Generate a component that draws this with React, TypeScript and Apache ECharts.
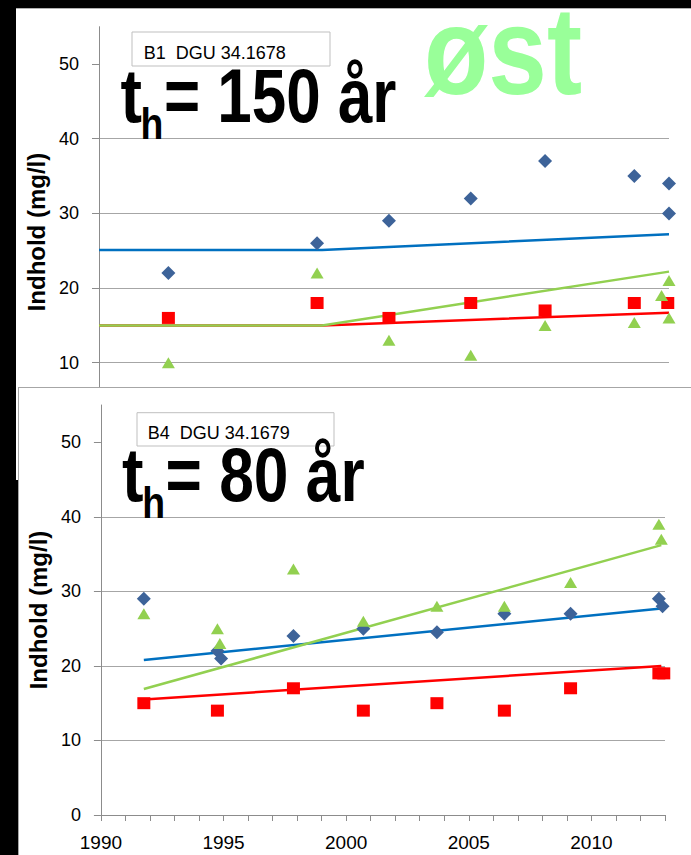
import React, { useEffect, useRef } from "react";
import * as echarts from "echarts";

// ---------- data ----------
const xLabelYears = [1990, 1995, 2000, 2005, 2010];
const yTickValues = [0, 10, 20, 30, 40, 50];
const yLabelsTop = [10, 20, 30, 40, 50];
const yLabelsBottom = [0, 10, 20, 30, 40, 50];

// top panel (B1)
const topBlueYears = [1992.8, 1998.8, 2001.7, 2005.0, 2008.0, 2011.6, 2013.0, 2013.0];
const topBlueValues = [22, 26, 29, 32, 37, 35, 34, 30];
const topRedYears = [1992.8, 1998.8, 2001.7, 2005.0, 2008.0, 2011.6, 2012.95];
const topRedValues = [16, 18, 16, 18, 17, 18, 18];
const topGreenYears = [1992.8, 1998.8, 2001.7, 2005.0, 2008.0, 2011.6, 2012.7, 2013.0, 2013.0];
const topGreenValues = [10, 22, 13, 11, 15, 15.4, 19, 21, 16];
const topTrendYears = [1990, 1999, 2013];
const topTrendBlue = [25.1, 25.1, 27.2];
const topTrendGreen = [15.0, 15.0, 22.2];
const topTrendRed = [15.0, 15.0, 16.7];

// bottom panel (B4)
const botBlueYears = [1991.75, 1994.75, 1994.9, 1997.85, 2000.7, 2003.7, 2006.45, 2009.15, 2012.75, 2012.9];
const botBlueValues = [29, 22, 21, 24, 25, 24.5, 27, 27, 29, 28];
const botRedYears = [1991.75, 1994.75, 1997.85, 2000.7, 2003.7, 2006.45, 2009.15, 2012.75, 2012.95];
const botRedValues = [15, 14, 17, 14, 15, 14, 17, 19, 19];
const botGreenYears = [1991.75, 1994.75, 1994.85, 1997.85, 2000.7, 2003.7, 2006.45, 2009.15, 2012.75, 2012.85];
const botGreenValues = [27, 25, 23, 33, 26, 28, 28, 31.2, 39, 37];
const botTrendYears = [1991.75, 2012.85];
const botTrendBlue = [20.8, 27.7];
const botTrendGreen = [16.9, 36.2];
const botTrendRed = [15.5, 20.0];

// ---------- styles ----------
const FONT = "'Liberation Sans', Arial, sans-serif";
const DIAMOND = "#3D6399";
const RED = "#FF0000";
const GREEN = "#92D050";
const LINE_BLUE = "#0070C0";
const AXIS = "#8c8c8c";
const GRID = "#a6a6a6";

const zip = (xs: number[], ys: number[]) => xs.map((x, i) => [x, ys[i]]);

function scatter(xs: number[], ys: number[], symbol: string, size: any, color: string) {
  return {
    type: "scatter",
    data: zip(xs, ys),
    symbol,
    symbolSize: size,
    itemStyle: { color, opacity: 1 },
    z: 3,
  };
}

function trend(xs: number[], ys: number[], color: string) {
  return {
    type: "line",
    data: zip(xs, ys),
    symbol: "none",
    showSymbol: false,
    lineStyle: { color, width: 2.5 },
    z: 2,
  };
}

function yAxisCfg(labels: number[], nameGap: number) {
  return {
    type: "value",
    min: 0,
    max: 55,
    interval: 10,
    name: "Indhold (mg/l)",
    nameLocation: "middle",
    nameRotate: 90,
    nameGap,
    nameTextStyle: { fontFamily: FONT, fontWeight: "bold", fontSize: 24, color: "#000" },
    axisLine: { show: true, lineStyle: { color: AXIS, width: 1 } },
    axisTick: { show: true, length: 7, inside: false, lineStyle: { color: AXIS }, customValues: yTickValues },
    axisLabel: {
      fontFamily: FONT,
      fontSize: 18,
      color: "#000",
      margin: 20,
      formatter: (v: number) => (labels.includes(v) ? String(v) : ""),
    },
    splitLine: { show: true, showMinLine: false, showMaxLine: false, lineStyle: { color: GRID, width: 1 } },
  };
}

function bigText(x: number, y: number, text: string, size: number, fill = "#000", scaleX = 0.85) {
  return {
    type: "text",
    x,
    y,
    scaleX,
    z: 100,
    style: {
      text,
      fontFamily: FONT,
      fontWeight: "bold",
      fontSize: size,
      fill,
      align: "left",
      verticalAlign: "middle",
    },
  };
}

function labelBox(x: number, y: number, w: number, h: number, tx: number, ty: number, text: string) {
  return [
    {
      type: "rect",
      z: 99,
      shape: { x, y, width: w, height: h },
      style: { fill: "#fff", stroke: "#bfbfbf", lineWidth: 1 },
    },
    {
      type: "text",
      z: 100,
      x: tx,
      y: ty,
      style: { text, fontFamily: FONT, fontSize: 18, fill: "#000", align: "left", verticalAlign: "middle" },
    },
  ];
}

const optionTop: any = {
  animation: false,
  backgroundColor: "transparent",
  grid: { left: 99, right: 22, top: 26.7, height: 410.7 },
  xAxis: {
    type: "value",
    min: 1990,
    max: 2013,
    interval: 1,
    axisLine: { show: false },
    axisTick: { show: false },
    axisLabel: { show: false },
    splitLine: { show: false },
  },
  yAxis: yAxisCfg(yLabelsTop, 47),
  series: [
    trend(topTrendYears, topTrendBlue, LINE_BLUE),
    trend(topTrendYears, topTrendRed, RED),
    trend(topTrendYears, topTrendGreen, GREEN),
    scatter(topBlueYears, topBlueValues, "diamond", 14, DIAMOND),
    scatter(topRedYears, topRedValues, "rect", [13, 12], RED),
    scatter(topGreenYears, topGreenValues, "triangle", [13, 11], GREEN),
  ],
  graphic: [
    ...labelBox(132, 32, 198, 34, 143.7, 52.7, "B1  DGU 34.1678"),
    bigText(120.4, 96, "t", 76),
    bigText(140.6, 124, "h", 44),
    bigText(164, 96, "= 150 år", 76, "#000", 0.815),
    bigText(424, 51, "øst", 124, "#99FF99"),
  ],
};

const optionBottom: any = {
  animation: false,
  backgroundColor: "transparent",
  grid: { left: 82.7, right: 26, top: 18, height: 410 },
  xAxis: {
    type: "value",
    min: 1990,
    max: 2013,
    interval: 1,
    axisLine: { show: true, lineStyle: { color: AXIS, width: 1 } },
    axisTick: { show: true, length: 6, lineStyle: { color: AXIS } },
    axisLabel: {
      fontFamily: FONT,
      fontSize: 19,
      color: "#000",
      margin: 18,
      formatter: (v: number) => (xLabelYears.includes(v) ? String(v) : ""),
    },
    splitLine: { show: false },
  },
  yAxis: yAxisCfg(yLabelsBottom, 50),
  series: [
    trend(botTrendYears, botTrendBlue, LINE_BLUE),
    trend(botTrendYears, botTrendRed, RED),
    trend(botTrendYears, botTrendGreen, GREEN),
    scatter(botBlueYears, botBlueValues, "diamond", 14, DIAMOND),
    scatter(botRedYears, botRedValues, "rect", [13, 12], RED),
    scatter(botGreenYears, botGreenValues, "triangle", [13, 11], GREEN),
  ],
  graphic: [
    ...labelBox(119, 25.7, 197, 33.3, 129.7, 45.5, "B4  DGU 34.1679"),
    bigText(104, 87.5, "t", 76),
    bigText(124.3, 116, "h", 44),
    bigText(147.5, 87.5, "= 80 år", 76, "#000", 0.82),
  ],
};

export default function App() {
  const refA = useRef<HTMLDivElement>(null);
  const refB = useRef<HTMLDivElement>(null);

  useEffect(() => {
    const a = echarts.init(refA.current!, null, { renderer: "svg" });
    const b = echarts.init(refB.current!, null, { renderer: "svg" });
    a.setOption(optionTop);
    b.setOption(optionBottom);
    return () => {
      a.dispose();
      b.dispose();
    };
  }, []);

  return (
    <div
      style={{
        position: "fixed",
        left: 0,
        top: 0,
        width: 691,
        height: 855,
        background: "#000",
        overflow: "hidden",
      }}
    >
      <div
        style={{
          position: "absolute",
          left: 16,
          top: 8,
          width: 675,
          height: 472,
          background: "#fff",
          borderTop: "1px solid #b0b0b0",
          boxSizing: "border-box",
        }}
      />
      <div ref={refA} style={{ position: "absolute", left: 0, top: 0, width: 691, height: 480 }} />
      <div
        style={{
          position: "absolute",
          left: 18,
          top: 387,
          width: 673,
          height: 468,
          background: "#fff",
          borderTop: "1px solid #a6a6a6",
          borderLeft: "1px solid #a6a6a6",
          boxSizing: "border-box",
        }}
      />
      <div ref={refB} style={{ position: "absolute", left: 18, top: 387, width: 673, height: 468 }} />
    </div>
  );
}
